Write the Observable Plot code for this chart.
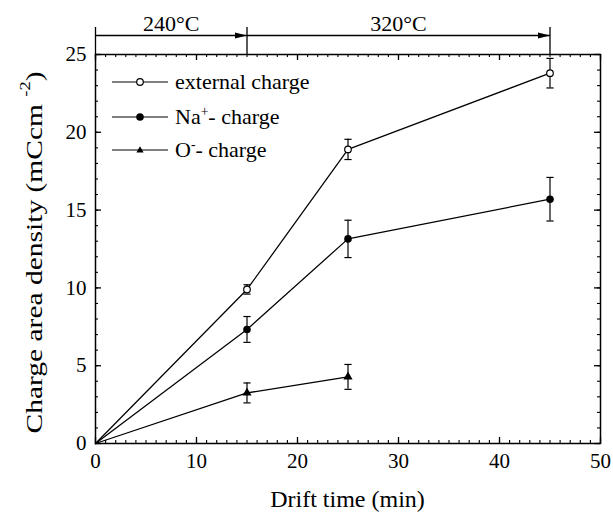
<!DOCTYPE html>
<html><head><meta charset="utf-8">
<script src="https://cdn.jsdelivr.net/npm/d3@7"></script>
<script src="https://cdn.jsdelivr.net/npm/@observablehq/plot@0.6"></script>
<style>
body{margin:0;background:#fff;}
#wrap{position:relative;width:613px;height:518px;font-family:"Liberation Serif","Times New Roman",serif;color:#000;}
.leg{position:absolute;left:112px;display:flex;align-items:center;height:30px;font-size:22px;white-space:nowrap;line-height:30px;}
.leg svg{margin-right:7px;overflow:visible;}
.leg sup{font-size:62%;vertical-align:0.6em;line-height:0;}
</style></head><body><div id="wrap"></div>
<script>
// ---- data ----
const times = [0, 15, 25, 45];
const externalCharge = [0, 9.9, 18.9, 23.8];
const externalErr = [0, 0.3, 0.65, 0.95];
const sodiumCharge = [0, 7.33, 13.15, 15.7];
const sodiumErr = [0, 0.83, 1.2, 1.4];
const oxygenTimes = [0, 15, 25];
const oxygenCharge = [0, 3.25, 4.28];
const oxygenErr = [0, 0.64, 0.8];
const xMajor = [0, 10, 20, 30, 40, 50];
const yMajor = [0, 5, 10, 15, 20, 25];
const xMinor = d3.range(0, 51, 1);
const yMinor = d3.range(0, 26, 1);
const phaseStart = [0, 15];
const phaseEnd = [15, 45];
const phaseLabels = ["240°C", "320°C"];
const phaseBounds = [0, 15, 45];
const xTitle = "Drift time (min)";
const yTitle = "Charge area density (mCcm ";
const yTitleSup = "-2";

const ext = times.map((t, i) => ({t, v: externalCharge[i], e: externalErr[i]}));
const na = times.map((t, i) => ({t, v: sodiumCharge[i], e: sodiumErr[i]}));
const ox = oxygenTimes.map((t, i) => ({t, v: oxygenCharge[i], e: oxygenErr[i]}));
const phases = phaseStart.map((s, i) => ({start: s, end: phaseEnd[i], label: phaseLabels[i]}));

const W = 613, H = 518, mL = 95, mR = 13, mT = 54, mB = 75;
const fw = W - mL - mR, fh = H - mT - mB;

const capSymbol = {draw(ctx, size) { const r = Math.sqrt(size / Math.PI); ctx.moveTo(-r, 0); ctx.lineTo(r, 0); }};
const headSymbol = {draw(ctx) { ctx.moveTo(0, 0); ctx.lineTo(-12, -3); ctx.lineTo(-12, 3); ctx.closePath(); }};

function errorMarks(data) {
  const d = data.filter(p => p.e > 0);
  return [
    Plot.ruleX(d, {x: "t", y1: p => p.v - p.e, y2: p => p.v + p.e, stroke: "black", strokeWidth: 1.2}),
    Plot.dot(d, {x: "t", y: p => p.v + p.e, symbol: capSymbol, r: 3.6, stroke: "black", strokeWidth: 1.2, fill: "none"}),
    Plot.dot(d, {x: "t", y: p => p.v - p.e, symbol: capSymbol, r: 3.6, stroke: "black", strokeWidth: 1.2, fill: "none"})
  ];
}

const svg = Plot.plot({
  width: W, height: H,
  marginLeft: mL, marginRight: mR, marginTop: mT, marginBottom: mB,
  x: {domain: [0, 50]},
  y: {domain: [0, 25]},
  style: {fontFamily: "'Liberation Serif', 'Times New Roman', serif", fontSize: "21px", background: "white", color: "black", overflow: "visible"},
  marks: [
    Plot.frame({stroke: "black", strokeWidth: 1.5}),
    // inward ticks
    Plot.ruleX(xMinor, {x: d => d, insetTop: fh - 3, stroke: "black", strokeWidth: 1.1}),
    Plot.ruleX(xMajor, {x: d => d, insetTop: fh - 6, stroke: "black", strokeWidth: 1.3}),
    Plot.ruleX(xMinor, {x: d => d, insetBottom: fh - 3, stroke: "black", strokeWidth: 1.1}),
    Plot.ruleX(xMajor, {x: d => d, insetBottom: fh - 6, stroke: "black", strokeWidth: 1.3}),
    Plot.ruleY(yMinor, {y: d => d, insetRight: fw - 3, stroke: "black", strokeWidth: 1.1}),
    Plot.ruleY(yMajor, {y: d => d, insetRight: fw - 6, stroke: "black", strokeWidth: 1.3}),
    Plot.ruleY(yMinor, {y: d => d, insetLeft: fw - 3, stroke: "black", strokeWidth: 1.1}),
    Plot.ruleY(yMajor, {y: d => d, insetLeft: fw - 6, stroke: "black", strokeWidth: 1.3}),
    Plot.axisX({ticks: xMajor, tickSize: 0, tickPadding: 10, tickFormat: d => String(d), label: null, fontSize: 21}),
    Plot.axisY({ticks: yMajor, tickSize: 0, tickPadding: 9, tickFormat: d => String(d), label: null, fontSize: 21}),
    // temperature phases above the frame
    Plot.ruleX(phaseBounds, {x: d => d, insetTop: -27, insetBottom: fh, stroke: "black", strokeWidth: 1.3}),
    Plot.link(phases, {x1: "start", x2: "end", y1: 25, y2: 25, dy: -19, stroke: "black", strokeWidth: 1.3}),
    Plot.dot(phases, {x: "end", y: 25, dy: -19, symbol: headSymbol, fill: "black", stroke: "none"}),
    Plot.text(phases, {x: d => (d.start + d.end) / 2, y: 25, dy: -31, text: "label", fontSize: 22, fill: "black"}),
    // series lines
    Plot.line(ext, {x: "t", y: "v", stroke: "black", strokeWidth: 1.25}),
    Plot.line(na, {x: "t", y: "v", stroke: "black", strokeWidth: 1.25}),
    Plot.line(ox, {x: "t", y: "v", stroke: "black", strokeWidth: 1.25}),
    ...errorMarks(ext),
    ...errorMarks(na),
    ...errorMarks(ox),
    Plot.dot(ext.filter(d => d.t > 0), {x: "t", y: "v", r: 3.3, fill: "white", stroke: "black", strokeWidth: 1.2}),
    Plot.dot(na.filter(d => d.t > 0), {x: "t", y: "v", r: 3.8, fill: "black", stroke: "none"}),
    Plot.dot(ox.filter(d => d.t > 0), {x: "t", y: "v", r: 3.4, symbol: "triangle", fill: "black", stroke: "none"})
  ]
});

// axis titles
const s = d3.select(svg);
s.append("text")
  .attr("x", mL + fw / 2).attr("y", 507)
  .attr("text-anchor", "middle")
  .attr("font-size", 24).attr("fill", "black")
  .text(xTitle);
const yt = s.append("text")
  .attr("transform", `translate(36,${mT + fh / 2 + 4}) rotate(-90)`)
  .attr("text-anchor", "middle").attr("dominant-baseline", "middle")
  .attr("font-size", 24).attr("fill", "black")
  .attr("textLength", 362).attr("lengthAdjust", "spacingAndGlyphs");
yt.append("tspan").text(yTitle);
yt.append("tspan").attr("font-size", 15).attr("dy", -9).text(yTitleSup);
yt.append("tspan").attr("dy", 9).text(")");

const wrap = document.getElementById("wrap");
wrap.appendChild(svg);

// legend
const legendItems = [
  {html: "external charge", marker: '<circle cx="28" cy="6" r="3.3" fill="white" stroke="black" stroke-width="1.2"/>', top: 82},
  {html: "Na<sup>+</sup>- charge", marker: '<circle cx="28" cy="6" r="3.8" fill="black"/>', top: 117},
  {html: "O<sup>-</sup>- charge", marker: '<path d="M28,2.2 L31.6,8.4 L24.4,8.4 Z" fill="black"/>', top: 150}
];
for (const it of legendItems) {
  const row = document.createElement("div");
  row.className = "leg";
  row.style.top = (it.top - 15) + "px";
  row.innerHTML = `<svg width="56" height="12"><line x1="0" x2="56" y1="6" y2="6" stroke="black" stroke-width="1.1"/>${it.marker}</svg><span>${it.html}</span>`;
  wrap.appendChild(row);
}
</script></body></html>
